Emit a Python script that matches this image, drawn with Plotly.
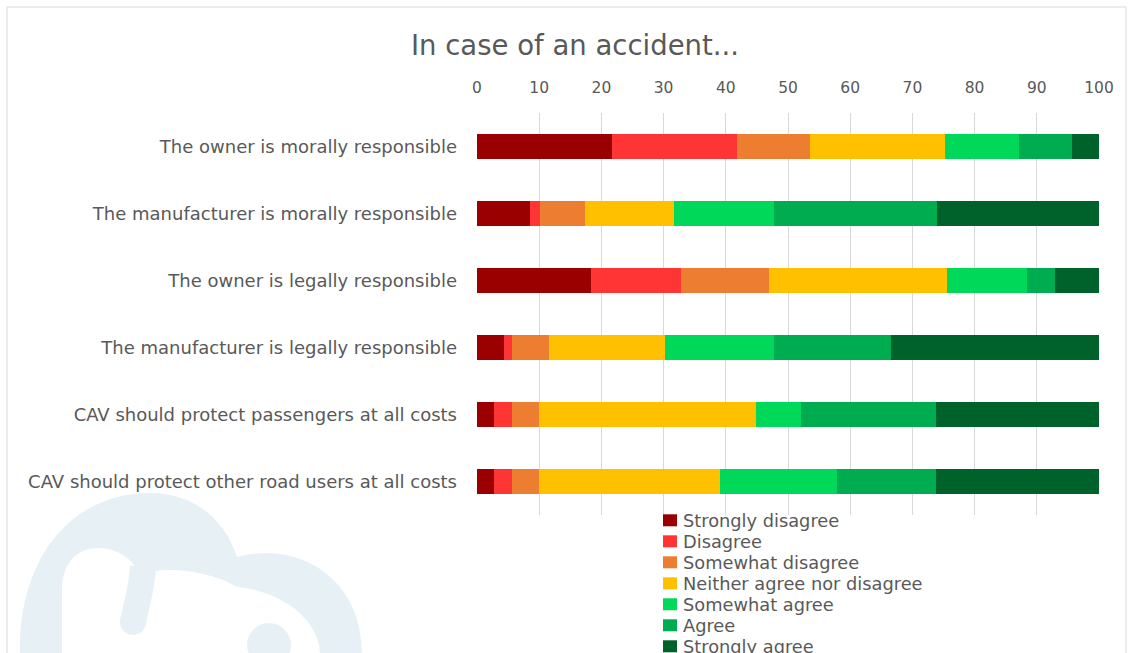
import plotly.graph_objects as go

# Survey statements (top to bottom)
statements = [
    "The owner is morally responsible",
    "The manufacturer is morally responsible",
    "The owner is legally responsible",
    "The manufacturer is legally responsible",
    "CAV should protect passengers at all costs",
    "CAV should protect other road users at all costs",
]

# Percentage of respondents per answer, one value per statement
strongly_disagree = [21.7, 8.5, 18.4, 4.3, 2.7, 2.7]
disagree = [20.1, 1.6, 14.4, 1.3, 3.0, 3.0]
somewhat_disagree = [11.8, 7.3, 14.2, 5.9, 4.2, 4.2]
neither = [21.7, 14.3, 28.6, 18.8, 34.9, 29.2]
somewhat_agree = [11.8, 16.1, 12.9, 17.4, 7.3, 18.7]
agree = [8.6, 26.1, 4.5, 18.9, 21.7, 16.0]
strongly_agree = [4.3, 26.1, 7.0, 33.4, 26.2, 26.2]

answer_names = ["Strongly disagree", "Disagree", "Somewhat disagree",
                "Neither agree nor disagree", "Somewhat agree", "Agree",
                "Strongly agree"]
answer_values = [strongly_disagree, disagree, somewhat_disagree, neither,
                 somewhat_agree, agree, strongly_agree]
answer_colors = ["#9B0000", "#FF3535", "#ED7D31", "#FFC000",
                 "#00D85A", "#00AC50", "#00622B"]

x_ticks = list(range(0, 101, 10))

W, H = 1132, 653
ML, MR, MT, MB = 477, 33, 113, 138
PW, PH = W - ML - MR, H - MT - MB
TEXT = "#595959"
FONT = "DejaVu Sans"


def px(x):
    return (x - ML) / PW


def py(y):
    return (H - MB - y) / PH


def path(cmds):
    out = []
    for c in cmds:
        if isinstance(c, str):
            out.append(c)
        else:
            out.append(f"{px(c[0]):.5f},{py(c[1]):.5f}")
    return " ".join(out)


fig = go.Figure()
for name, vals, col in zip(answer_names, answer_values, answer_colors):
    fig.add_trace(go.Bar(
        y=statements, x=vals, name=name, orientation="h",
        marker=dict(color=col, line=dict(width=0)),
        showlegend=False,
    ))

shapes = []
annotations = []

# chart frame
shapes.append(dict(type="rect", xref="paper", yref="paper",
                   x0=px(7), x1=px(1126), y0=py(7), y1=py(700),
                   line=dict(color="#D9D9D9", width=1), layer="below"))

# faint cloud logo in the lower left corner
WM = "#E7F1F5"
outer = path(["M", (20, 653), "C", (18, 560), (70, 493), (150, 493),
              "C", (195, 493), (225, 520), (237, 557),
              "C", (300, 540), (362, 580), (362, 653), "Z"])
inner = path(["M", (62, 653), "L", (62, 590), "C", (62, 562), (78, 548), (98, 548),
              "C", (118, 548), (134, 560), (140, 575),
              "C", (160, 565), (210, 570), (237, 587),
              "C", (275, 590), (318, 615), (320, 653), "Z"])
tail = path(["M", (143, 566), "C", (142, 590), (136, 605), (133, 622)])
shapes.append(dict(type="path", xref="paper", yref="paper", path=outer,
                   fillcolor=WM, line=dict(width=0), layer="below"))
shapes.append(dict(type="path", xref="paper", yref="paper", path=inner,
                   fillcolor="white", line=dict(width=0), layer="below"))
shapes.append(dict(type="path", xref="paper", yref="paper", path=tail,
                   line=dict(color=WM, width=26), layer="below"))
shapes.append(dict(type="circle", xref="paper", yref="paper",
                   x0=px(120), x1=px(146), y0=py(635), y1=py(609),
                   fillcolor=WM, line=dict(width=0), layer="below"))
shapes.append(dict(type="circle", xref="paper", yref="paper",
                   x0=px(247), x1=px(291), y0=py(667), y1=py(623),
                   fillcolor=WM, line=dict(width=0), layer="below"))

# legend: one key square and label per answer, stacked below the plot
LEG_X, LEG_Y0, LEG_STEP = 663, 520.3, 21
for i, (name, col) in enumerate(zip(answer_names, answer_colors)):
    yc = LEG_Y0 + i * LEG_STEP
    shapes.append(dict(type="rect", xref="paper", yref="paper",
                       x0=px(LEG_X), x1=px(LEG_X + 14),
                       y0=py(yc + 6), y1=py(yc - 6),
                       fillcolor=col, line=dict(width=0), layer="above"))
    annotations.append(dict(text=name, xref="paper", yref="paper",
                            x=px(LEG_X + 18), y=py(yc), xanchor="left",
                            yanchor="middle", showarrow=False,
                            font=dict(family=FONT, size=17.8, color=TEXT)))

fig.update_layout(
    width=W, height=H,
    margin=dict(l=ML, r=MR, t=MT, b=MB, autoexpand=False),
    paper_bgcolor="white", plot_bgcolor="white",
    barmode="stack", bargap=0.64,
    font=dict(family=FONT, color=TEXT, size=15),
    title=dict(text="In case of an accident...", xref="container", yref="container",
               x=575 / W, y=1 - 45 / H, xanchor="center", yanchor="middle",
               font=dict(family=FONT, size=27.5, color=TEXT)),
    xaxis=dict(side="top", range=[0, 100], tickvals=x_ticks, ticks="",
               showgrid=True, gridcolor="#D9D9D9", gridwidth=1,
               zeroline=False, showline=False, ticklabelstandoff=16,
               tickfont=dict(family=FONT, size=15.5, color=TEXT), fixedrange=True),
    yaxis=dict(categoryorder="array", categoryarray=statements,
               autorange="reversed", ticks="", showgrid=False, showline=False,
               zeroline=False, ticklabelstandoff=19,
               tickfont=dict(family=FONT, size=18, color=TEXT), fixedrange=True),
    shapes=shapes,
    annotations=annotations,
    showlegend=False,
)

fig.write_html("out.html")
